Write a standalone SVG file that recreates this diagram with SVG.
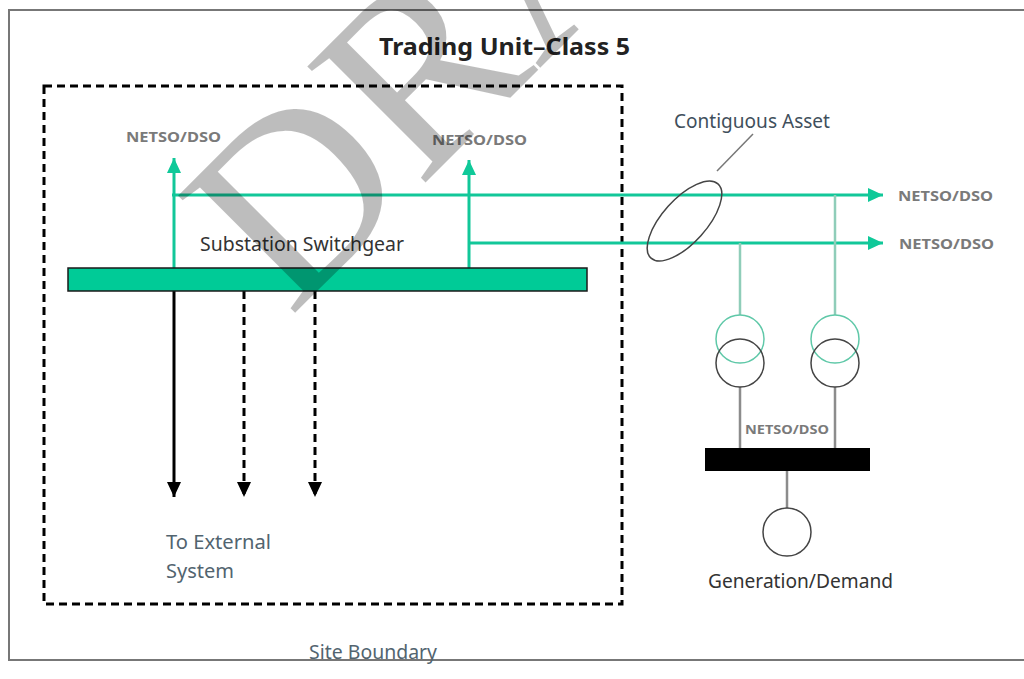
<svg xmlns="http://www.w3.org/2000/svg" width="1024" height="679" viewBox="0 0 1024 679">
<style>
.t{font-family:"Noto Sans","Open Sans","Liberation Sans",sans-serif;font-size:19px;fill:#3f4f5c}
.n{font-family:"Noto Sans","Open Sans","Liberation Sans",sans-serif;font-size:15px;font-weight:700;fill:#7a7a7a}
.g{stroke:#12c799;stroke-width:3;fill:none}
.lg{stroke:#8fcdb9;stroke-width:2.5;fill:none}
.k{stroke:#8c8c8c;stroke-width:2.5;fill:none}
.c{fill:none;stroke:#444;stroke-width:1.5}
</style>
<defs>
<marker id="ag" markerUnits="userSpaceOnUse" markerWidth="16" markerHeight="16" refX="15" refY="8" orient="auto"><path d="M0 1L15 8L0 15Z" fill="#0fc999"/></marker>
<marker id="ak" markerUnits="userSpaceOnUse" markerWidth="16" markerHeight="16" refX="15" refY="8" orient="auto"><path d="M0 1L15 8L0 15Z" fill="#000"/></marker>
</defs>
<rect width="1024" height="679" fill="#fff"/>
<path id="frame" d="M1024 10H9V660H1024" fill="none" stroke="#777" stroke-width="2"/>
<rect id="site-boundary" x="44" y="86" width="578" height="518" fill="none" stroke="#000" stroke-width="3" stroke-dasharray="8 5"/>
<g id="connectors">
<path class="g" d="M174 268V158"  marker-end="url(#ag)"/>
<path class="g" d="M469 268V160" marker-end="url(#ag)"/>
<path class="g" d="M172 195H883" marker-end="url(#ag)"/>
<path class="g" d="M469 243H883" marker-end="url(#ag)"/>
<path class="lg" d="M740 243V315M835 195V315"/>
<path class="k" d="M740 387V448M835 387V448M787 471V508"/>
<path d="M174 291V497" stroke="#000" stroke-width="3" fill="none" marker-end="url(#ak)"/>
<path d="M244 291V497" stroke="#000" stroke-width="3" stroke-dasharray="8 5" fill="none" marker-end="url(#ak)"/>
<path d="M315 291V497" stroke="#000" stroke-width="3" stroke-dasharray="8 5" fill="none" marker-end="url(#ak)"/>
<path d="M753 134L717 171" stroke="#777" stroke-width="1.5" fill="none"/>
</g>
<g id="switchgear"><rect x="68" y="268" width="519" height="23" fill="#00cb97" stroke="#1a1a1a" stroke-width="1.5"/></g>
<g id="contiguous"><ellipse cx="684.500" cy="221" rx="50" ry="22" transform="rotate(-48 684.500 221)" class="c"/></g>
<g id="tx1"><circle cx="740" cy="339" r="24" fill="none" stroke="#5fc8a8" stroke-width="1.500"/><circle cx="740" cy="363" r="24" class="c"/></g>
<g id="tx2"><circle cx="835" cy="339" r="24" fill="none" stroke="#5fc8a8" stroke-width="1.500"/><circle cx="835" cy="363" r="24" class="c"/></g>
<g id="gen-bus"><rect x="705" y="448" width="165" height="23" fill="#000"/></g>
<g id="gen"><circle cx="787" cy="532" r="24" class="c"/></g>
<g id="labels">
<text x="379" y="55" font-family="Noto Sans,Open Sans,sans-serif" font-size="23" font-weight="700" fill="#222" textLength="251" lengthAdjust="spacingAndGlyphs">Trading Unit–Class 5</text>
<text class="n" x="126" y="142" textLength="95" lengthAdjust="spacingAndGlyphs">NETSO/DSO</text>
<text class="n" x="432" y="145" textLength="95" lengthAdjust="spacingAndGlyphs">NETSO/DSO</text>
<text class="n" x="898" y="201" textLength="95" lengthAdjust="spacingAndGlyphs">NETSO/DSO</text>
<text class="n" x="899" y="249" textLength="95" lengthAdjust="spacingAndGlyphs">NETSO/DSO</text>
<text class="n" x="745" y="434" style="font-size:13px" textLength="84" lengthAdjust="spacingAndGlyphs">NETSO/DSO</text>
<text class="t" x="674" y="128" textLength="156" lengthAdjust="spacingAndGlyphs">Contiguous Asset</text>
<text class="t" x="200" y="251" textLength="204" lengthAdjust="spacingAndGlyphs" style="fill:#333">Substation Switchgear</text>
<text class="t" x="166" y="549" textLength="105" lengthAdjust="spacingAndGlyphs" style="fill:#52646f">To External</text>
<text class="t" x="166" y="578" textLength="68" lengthAdjust="spacingAndGlyphs" style="fill:#52646f">System</text>
<text class="t" x="309" y="659" textLength="128" lengthAdjust="spacingAndGlyphs" style="fill:#52646f">Site Boundary</text>
<text class="t" x="708" y="588" textLength="185" lengthAdjust="spacingAndGlyphs" style="fill:#333">Generation/Demand</text>
</g>
<text id="watermark" transform="translate(290 318) rotate(-45)" font-family="Liberation Serif,serif" font-size="253" fill="#000" fill-opacity=".26">DRAFT</text>
</svg>
